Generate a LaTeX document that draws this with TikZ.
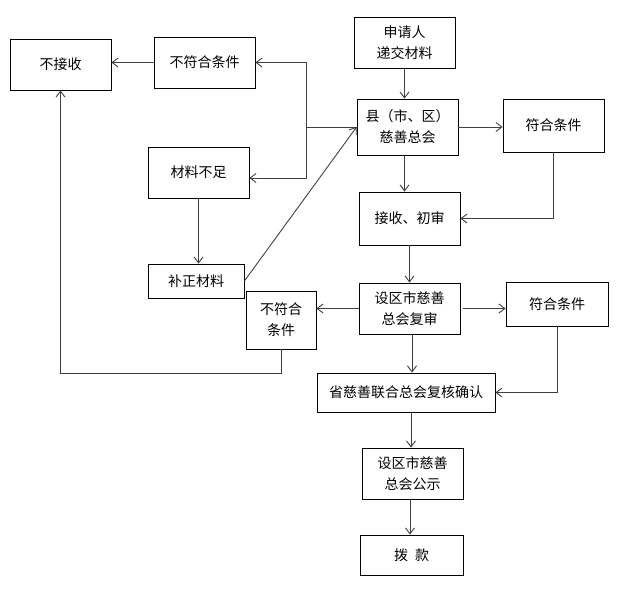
\documentclass[tikz,border=0pt]{standalone}
\usepackage{fontspec}
\setmainfont{Noto Sans CJK SC}
\usetikzlibrary{arrows.meta,calc}
\begin{document}
\begin{tikzpicture}[x=1pt,y=-1pt,
  box/.style={draw=black,line width=0.8pt,rectangle,inner sep=0pt,align=center,
    font=\fontsize{14}{21}\selectfont},
  arr/.style={draw=black!75,line width=0.9pt,-{Straight Barb[length=6pt,width=9pt]}},
  ln/.style={draw=black!75,line width=0.9pt}]
\useasboundingbox (0,0) rectangle (621,590);
\node[box,minimum width=101,minimum height=51] (jieshou0) at (60.5,64.5) {不接收};
\node[box,minimum width=101,minimum height=51] (bufu1) at (204.5,62.5) {不符合条件};
\node[box,minimum width=101,minimum height=51] (shenqing) at (404.5,42.5) {申请人\\递交材料};
\node[box,minimum width=101,minimum height=56] (xian) at (407.5,127) {县（市、区）\\慈善总会};
\node[box,minimum width=101,minimum height=53] (fuhe1) at (553.5,125.5) {符合条件};
\node[box,minimum width=101,minimum height=51] (buzu) at (198.5,172.5) {材料不足};
\node[box,minimum width=101,minimum height=53] (chushen) at (409.5,218.5) {接收、初审};
\node[box,minimum width=96,minimum height=34] (buzheng) at (196,281) {补正材料};
\node[box,minimum width=70,minimum height=58] (bufu2) at (281,320) {不符合\\条件};
\node[box,minimum width=101,minimum height=51] (fushen) at (409.5,308.5) {设区市慈善\\总会复审};
\node[box,minimum width=102,minimum height=44] (fuhe2) at (557,304) {符合条件};
\node[box,minimum width=178,minimum height=39] (sheng) at (406,392.5) {省慈善联合总会复核确认};
\node[box,minimum width=101,minimum height=51] (gongshi) at (412.5,473.5) {设区市慈善\\总会公示};
\node[box,minimum width=103,minimum height=40] (bokuan) at (411.5,555) {拨\hspace{0.5em}款};
\coordinate (j) at (306,127);
% main column
\draw[arr] (shenqing.south) -- (shenqing.south |- xian.north);
\draw[arr] (xian.south -| shenqing) -- (chushen.north -| shenqing);
\draw[arr] (chushen.south) -- (fushen.north);
\draw[arr] (fushen.south -| 412,0) -- (sheng.north -| 412,0);
\draw[arr] (sheng.south -| 411,0) -- (gongshi.north -| 411,0);
\draw[arr] (gongshi.south -| 410,0) -- (bokuan.north -| 410,0);
% right side
\draw[arr] (xian.east) -- (xian.east -| fuhe1.west);
\draw[arr] (fuhe1.south) |- (chushen.east);
\draw[arr,shorten <=3pt] (fushen.east) -- (fushen.east -| fuhe2.west);
\draw[arr] (fuhe2.south) |- (sheng.east);
% left side
\draw[arr] (fushen.west) -- (fushen.west -| bufu2.east);
\draw[ln] (xian.west) -- (j);
\draw[arr] (j) |- (bufu1.east);
\draw[arr] (j) |- ($(buzu.east)+(0,5.5)$);
\draw[arr] (bufu1.west) -- (bufu1.west -| jieshou0.east);
\draw[arr] (buzu.south) -- (buzu.south |- buzheng.north);
\draw[arr] (buzheng.east) -- (xian.west);
\draw[arr] (bufu2.south) -- ++(0,24) -| (jieshou0.south);
\end{tikzpicture}
\end{document}
